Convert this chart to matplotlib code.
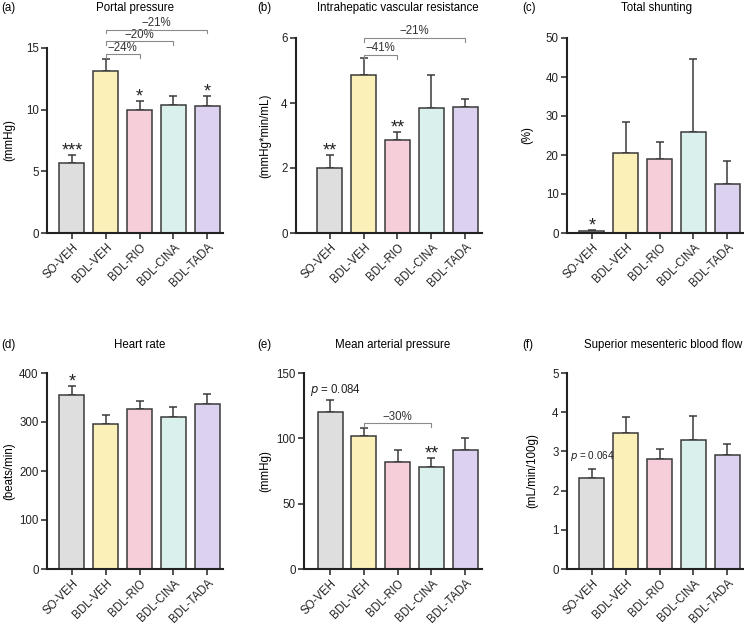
import matplotlib
matplotlib.use("Agg")
import matplotlib.pyplot as plt

plt.rcParams["font.family"] = ["Liberation Sans", "DejaVu Sans"]

groups = ["SO-VEH", "BDL-VEH", "BDL-RIO", "BDL-CINA", "BDL-TADA"]
colors = ["#dedede", "#fcf0b9", "#f6ced9", "#daf0ed", "#dcd1ef"]

# means and upper error bar tops
portal_mean = [5.7, 13.1, 10.0, 10.4, 10.3]
portal_top = [6.3, 14.1, 10.7, 11.1, 11.1]
ivr_mean = [2.0, 4.85, 2.87, 3.85, 3.87]
ivr_top = [2.4, 5.4, 3.1, 4.87, 4.13]
shunt_mean = [0.6, 20.6, 18.9, 25.9, 12.5]
shunt_top = [0.8, 28.5, 23.3, 44.7, 18.4]
hr_mean = [355, 296, 327, 311, 336]
hr_top = [373, 315, 342, 330, 358]
map_mean = [120, 102, 82, 78, 91]
map_top = [129, 108, 91, 85, 100]
smbf_mean = [2.33, 3.46, 2.80, 3.28, 2.92]
smbf_top = [2.56, 3.89, 3.06, 3.91, 3.19]

portal_stars = ["***", "", "*", "", "*"]
ivr_stars = ["**", "", "**", "", ""]
shunt_stars = ["*", "", "", "", ""]
hr_stars = ["*", "", "", "", ""]
map_stars = ["", "", "", "**", ""]
smbf_stars = ["", "", "", "", ""]

# brackets: (from, to, level, label)
portal_brackets = [(1, 2, 14.5, "\u221224%"), (1, 3, 15.55, "\u221220%"), (1, 4, 16.5, "\u221221%")]
ivr_brackets = [(1, 2, 5.48, "\u221241%"), (1, 4, 6.0, "\u221221%")]
map_brackets = [(1, 3, 111.5, "\u221230%")]

W, H = 744, 629
fig = plt.figure(figsize=(W / 100, H / 100), dpi=100)
EDGE = "#3a3a3a"
FS = 8.3


def panel(left, right, top, bottom, xlo, xhi, ymax, yticks, mean, top_err, stars,
          title, title_x, title_y, letter, letter_x, ylabel, ylabel_x, brackets=(), ptext=None):
    ax = fig.add_axes([left / W, 1 - bottom / H, (right - left) / W, (bottom - top) / H])
    x = list(range(len(groups)))
    err = [t - m for m, t in zip(mean, top_err)]
    ax.bar(x, mean, width=0.74, color=colors, edgecolor=EDGE, linewidth=1.1, zorder=2)
    ax.errorbar(x, mean, yerr=[[0] * len(err), err], fmt="none", ecolor=EDGE,
                elinewidth=1.1, capsize=3, capthick=1.1, zorder=1)
    for xi, t, s in zip(x, top_err, stars):
        if s:
            ax.annotate(s, (xi, t), xytext=(0, -3), textcoords="offset points",
                        ha="center", va="bottom", fontsize=13, color="#222222")
    for a, b, lvl, lab in brackets:
        tick = ymax * 0.02
        ax.plot([a, a, b, b], [lvl - tick, lvl, lvl, lvl - tick], color="#8a8a8a",
                lw=0.8, clip_on=False, zorder=3)
        ax.text((a + b) / 2, lvl + ymax * 0.003, lab, ha="center", va="bottom",
                fontsize=FS, color="#333333", clip_on=False)
    if ptext:
        ax.text(ptext[0], ptext[1], ptext[2], ha="center", va="bottom",
                fontsize=ptext[3], color="#222222")
    ax.set_xlim(xlo, xhi)
    ax.set_ylim(0, ymax)
    ax.set_yticks(yticks)
    ax.set_xticks(x)
    ax.set_xticklabels(groups, rotation=45, ha="right", rotation_mode="anchor")
    for sp in ["top", "right"]:
        ax.spines[sp].set_visible(False)
    for sp in ["left", "bottom"]:
        ax.spines[sp].set_linewidth(1.5)
        ax.spines[sp].set_color("#222222")
    ax.tick_params(direction="out", length=4, width=1.1, labelsize=FS, colors="#222222", pad=2)
    fig.text(title_x / W, 1 - title_y / H, title, ha="center", va="center", fontsize=FS)
    fig.text(letter_x / W, 1 - title_y / H, letter, ha="left", va="center", fontsize=FS)
    fig.text(ylabel_x / W, 1 - (top + bottom) / 2 / H, ylabel, ha="center", va="center",
             rotation=90, fontsize=FS)
    return ax


panel(47, 223, 48, 233, -0.74, 4.47, 15, [0, 5, 10, 15], portal_mean, portal_top,
      portal_stars, "Portal pressure", 135, 8, "(a)", 1, "(mmHg)", 9, portal_brackets)
panel(296, 482, 38, 233, -1.0, 4.5, 6, [0, 2, 4, 6], ivr_mean, ivr_top, ivr_stars,
      "Intrahepatic vascular resistance", 398, 8, "(b)", 257, "(mmHg*min/mL)", 265, ivr_brackets)
panel(567, 744, 38, 233, -0.74, 4.5, 50, [0, 10, 20, 30, 40, 50], shunt_mean, shunt_top,
      shunt_stars, "Total shunting", 657, 8, "(c)", 522, "(%)", 527)
panel(47, 223, 373, 569, -0.74, 4.47, 400, [0, 100, 200, 300, 400], hr_mean, hr_top,
      hr_stars, "Heart rate", 140, 345, "(d)", 1, "(beats/min)", 9)
panel(304, 482, 373, 569, -0.77, 4.5, 150, [0, 50, 100, 150], map_mean, map_top,
      map_stars, "Mean arterial pressure", 393, 345, "(e)", 257, "(mmHg)", 265, map_brackets,
      ptext=(0.15, 131, "$p$ = 0.084", FS))
panel(567, 744, 373, 569, -0.74, 4.5, 5, [0, 1, 2, 3, 4, 5], smbf_mean, smbf_top,
      smbf_stars, "Superior mesenteric blood flow", 663, 345, "(f)", 522, "(mL/min/100g)", 532,
      ptext=(0.0, 2.7, "$p$ = 0.064", 7.2))

fig.savefig("out.png", dpi=100)
